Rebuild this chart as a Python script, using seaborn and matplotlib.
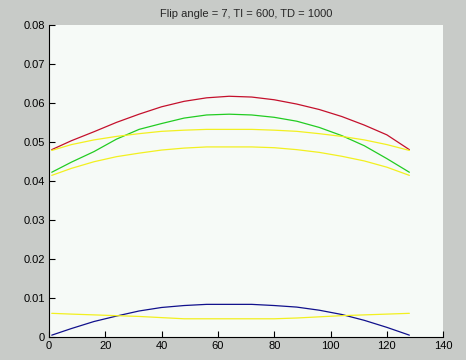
import matplotlib
matplotlib.use("Agg")
import matplotlib.pyplot as plt
import seaborn as sns
import pandas as pd

title = "Flip angle = 7, TI = 600, TD = 1000"
x_vals = [1, 8, 16, 24, 32, 40, 48, 56, 64, 72, 80, 88, 96, 104, 112, 120, 128]
red = [0.0480, 0.0503, 0.0526, 0.0550, 0.0571, 0.0590, 0.0604, 0.0613, 0.0617,
       0.0615, 0.0608, 0.0597, 0.0583, 0.0565, 0.0543, 0.0518, 0.0480]
green = [0.0422, 0.0448, 0.0475, 0.0507, 0.0532, 0.0547, 0.0561, 0.0569, 0.0571,
         0.0569, 0.0563, 0.0553, 0.0537, 0.0516, 0.0490, 0.0457, 0.0422]
yellow_upper = [0.0478, 0.0493, 0.0505, 0.0514, 0.0521, 0.0527, 0.0530, 0.0532, 0.0532,
                0.0532, 0.0530, 0.0527, 0.0521, 0.0514, 0.0505, 0.0493, 0.0478]
yellow_lower = [0.0414, 0.0432, 0.0449, 0.0462, 0.0471, 0.0479, 0.0484, 0.0487, 0.0487,
                0.0487, 0.0485, 0.0480, 0.0473, 0.0463, 0.0451, 0.0435, 0.0414]
blue = [0.0004, 0.0021, 0.0039, 0.0053, 0.0066, 0.0075, 0.0080, 0.0083, 0.0083,
        0.0083, 0.0080, 0.0076, 0.0068, 0.0057, 0.0042, 0.0024, 0.0004]
yellow_bottom = [0.0060, 0.0058, 0.0056, 0.0054, 0.0052, 0.0049, 0.0046, 0.0046, 0.0046,
                 0.0046, 0.0046, 0.0048, 0.0051, 0.0054, 0.0056, 0.0058, 0.0060]
x_ticks = [0, 20, 40, 60, 80, 100, 120, 140]
y_ticks = [0, 0.01, 0.02, 0.03, 0.04, 0.05, 0.06, 0.07, 0.08]
y_tick_labels = ["0", "0.01", "0.02", "0.03", "0.04", "0.05", "0.06", "0.07", "0.08"]

series = {"red": red, "green": green, "yellow_upper": yellow_upper,
          "yellow_lower": yellow_lower, "blue": blue, "yellow_bottom": yellow_bottom}
colors = {"red": "#c4102c", "green": "#22cc22", "yellow_upper": "#f2f020",
          "yellow_lower": "#f2f020", "blue": "#10108c", "yellow_bottom": "#f2f020"}

rows = []
for name, vals in series.items():
    for xv, yv in zip(x_vals, vals):
        rows.append({"x": xv, "y": yv, "series": name})
df = pd.DataFrame(rows)

sns.set_style("white")
plt.rcParams["font.family"] = ["Liberation Sans", "DejaVu Sans"]

fig = plt.figure(figsize=(4.66, 3.6), dpi=100)
fig.patch.set_facecolor("#c8cbc8")
ax = fig.add_axes([0.105, 0.0647, 0.846, 0.866])
ax.set_facecolor("#f6faf7")

sns.lineplot(data=df, x="x", y="y", hue="series", palette=colors, ax=ax,
             linewidth=0.9, legend=False, estimator=None, sort=True)

ax.set_xlim(0, 140)
ax.set_ylim(0, 0.08)
ax.set_xticks(x_ticks)
ax.set_xticklabels([str(t) for t in x_ticks])
ax.set_yticks(y_ticks)
ax.set_yticklabels(y_tick_labels)
ax.set_xlabel("")
ax.set_ylabel("")
ax.tick_params(direction="in", length=4, width=0.8, labelsize=8, colors="black",
               bottom=True, left=True, pad=3)
for s in ["top", "right"]:
    ax.spines[s].set_visible(False)
for s in ["left", "bottom"]:
    ax.spines[s].set_color("black")
    ax.spines[s].set_linewidth(0.8)
ax.set_title(title, fontsize=8, pad=6)

fig.savefig("out.png", dpi=100, facecolor=fig.get_facecolor())
